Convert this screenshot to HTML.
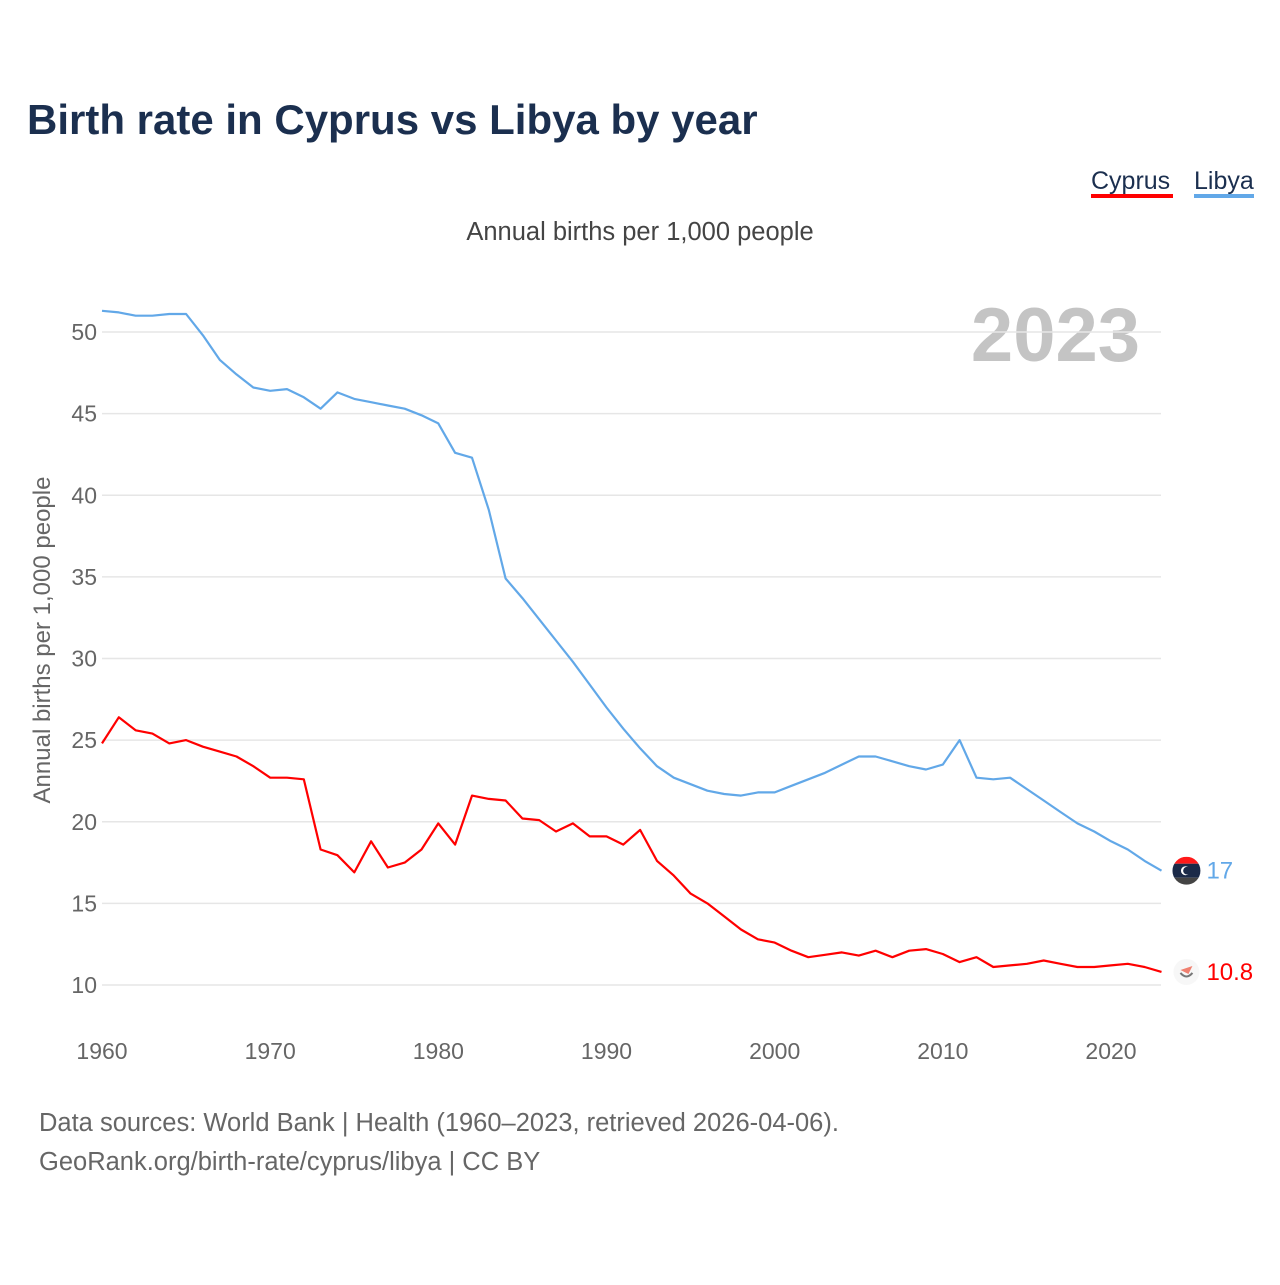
<!DOCTYPE html>
<html><head><meta charset="utf-8"><style>
body{margin:0;background:#fff;width:1280px;height:1280px;overflow:hidden;font-family:"Liberation Sans",sans-serif}
</style></head><body>
<svg id="chart" width="1280" height="1280" xmlns="http://www.w3.org/2000/svg" font-family="Liberation Sans, sans-serif">
<defs><clipPath id="flagclip"><circle id="fc" cx="0" cy="0" r="14"/></clipPath></defs>
<text x="27" y="134" font-size="42" font-weight="bold" fill="#1b2f4f">Birth rate in Cyprus vs Libya by year</text>
<g>
<text x="1091" y="189" font-size="25" fill="#1b2f4f">Cyprus</text>
<rect x="1091" y="194" width="82" height="4" fill="#ff0000"/>
<text x="1194" y="189" font-size="25" fill="#1b2f4f">Libya</text>
<rect x="1194" y="194" width="60" height="4" fill="#62a8e8"/>
</g>
<text x="640" y="240" font-size="25.5" text-anchor="middle" fill="#444">Annual births per 1,000 people</text>
<text x="1140" y="361" font-size="76" font-weight="bold" text-anchor="end" fill="#c4c4c4">2023</text>
<text transform="translate(50,640) rotate(-90)" font-size="24" text-anchor="middle" fill="#666">Annual births per 1,000 people</text>
<g id="grid"></g><g id="xt"></g><g id="lines"></g>
<text x="39" y="1131" font-size="25.5" fill="#666">Data sources: World Bank | Health (1960–2023, retrieved 2026-04-06).</text>
<text x="39" y="1170" font-size="25.5" fill="#666">GeoRank.org/birth-rate/cyprus/libya | CC BY</text>
</svg>
<script>
const startYear = 1960;
const yTicks = [10,15,20,25,30,35,40,45,50];
const xTicks = [1960,1970,1980,1990,2000,2010,2020];
const libya = [51.3,51.2,51.0,51.0,51.1,51.1,49.8,48.3,47.4,46.6,46.4,46.5,46.0,45.3,46.3,45.9,45.7,45.5,45.3,44.9,44.4,42.6,42.3,39.1,34.9,33.7,32.4,31.1,29.8,28.4,27.0,25.7,24.5,23.4,22.7,22.3,21.9,21.7,21.6,21.8,21.8,22.2,22.6,23.0,23.5,24.0,24.0,23.7,23.4,23.2,23.5,25.0,22.7,22.6,22.7,22.0,21.3,20.6,19.9,19.4,18.8,18.3,17.6,17.0];
const cyprus = [24.8,26.4,25.6,25.4,24.8,25.0,24.6,24.3,24.0,23.4,22.7,22.7,22.6,18.3,17.95,16.9,18.8,17.2,17.5,18.3,19.9,18.6,21.6,21.4,21.3,20.2,20.1,19.4,19.9,19.1,19.1,18.6,19.5,17.6,16.7,15.6,15.0,14.2,13.4,12.8,12.6,12.1,11.7,11.85,12.0,11.8,12.1,11.7,12.1,12.2,11.9,11.4,11.7,11.1,11.2,11.3,11.5,11.3,11.1,11.1,11.2,11.3,11.1,10.8];
const libyaLabel = "17", cyprusLabel = "10.8";
const NS="http://www.w3.org/2000/svg";
const X = yr => 102 + (yr-1960)*(1009/60);
const Y = v => 985 - (v-10)*(653/40);
function mk(tag, attrs, parent){const e=document.createElementNS(NS,tag);for(const k in attrs)e.setAttribute(k,attrs[k]);document.getElementById(parent).appendChild(e);return e;}
yTicks.forEach(t=>{
  const l=mk('line',{x1:102,x2:1161,y1:Y(t),y2:Y(t),stroke:'#e6e6e6','stroke-width':1.5},'grid');
  
  
  const tx=mk('text',{x:97,y:Y(t)+8,'font-size':23,'text-anchor':'end',fill:'#666'},'grid');
  tx.textContent=t;
  
  
});
xTicks.forEach(t=>{
  const tx=mk('text',{x:X(t),y:1059,'font-size':23,'text-anchor':'middle',fill:'#666'},'xt');
  tx.textContent=t;
  
  
});
function series(arr,color,name){
  const d=arr.map((v,i)=>(i?'L':'M')+X(startYear+i).toFixed(1)+','+Y(v).toFixed(1)).join('');
  const p=mk('path',{d:d,fill:'none',stroke:color,'stroke-width':2.2,'stroke-linejoin':'round'},'lines');
  
  
}
series(libya,'#62a8e8','line-libya');
series(cyprus,'#ff0000','line-cyprus');
const lastX = X(startYear+libya.length-1)+25;
const lv=libya[libya.length-1], cv=cyprus[cyprus.length-1];
const fc=document.getElementById('fc');
fc.setAttribute('cx',lastX); fc.setAttribute('cy',Y(lv));
const g=mk('g',{'clip-path':'url(#flagclip)'},'lines');


g.id='flagg';
mk('rect',{x:lastX-14,y:Y(lv)-14,width:28,height:7,fill:'#ff1a1a'},'flagg');
mk('rect',{x:lastX-14,y:Y(lv)-7,width:28,height:14,fill:'#1b2a48'},'flagg');
mk('rect',{x:lastX-14,y:Y(lv)+7,width:28,height:7,fill:'#444'},'flagg');
mk('circle',{cx:lastX-1,cy:Y(lv),r:4.5,fill:'#fff'},'flagg');
mk('circle',{cx:lastX+0.5,cy:Y(lv),r:3.8,fill:'#1b2a48'},'flagg');
const c2=mk('circle',{cx:lastX,cy:Y(cv),r:13,fill:'#f7f7f7'},'lines');


mk('path',{d:`M${lastX-6},${Y(cv)-2}L${lastX+6},${Y(cv)-6}L${lastX+2},${Y(cv)+2}Z`,fill:'#f08070'},'lines');
mk('path',{d:`M${lastX-6},${Y(cv)+1}Q${lastX},${Y(cv)+8} ${lastX+6},${Y(cv)+1}`,fill:'none',stroke:'#777','stroke-width':2},'lines');
const t1=mk('text',{x:lastX+20,y:Y(lv)+8,'font-size':24,fill:'#62a8e8'},'lines');
t1.textContent=libyaLabel;


const t2=mk('text',{x:lastX+20,y:Y(cv)+8,'font-size':24,fill:'#ff0000'},'lines');
t2.textContent=cyprusLabel;


</script>
</body></html>
